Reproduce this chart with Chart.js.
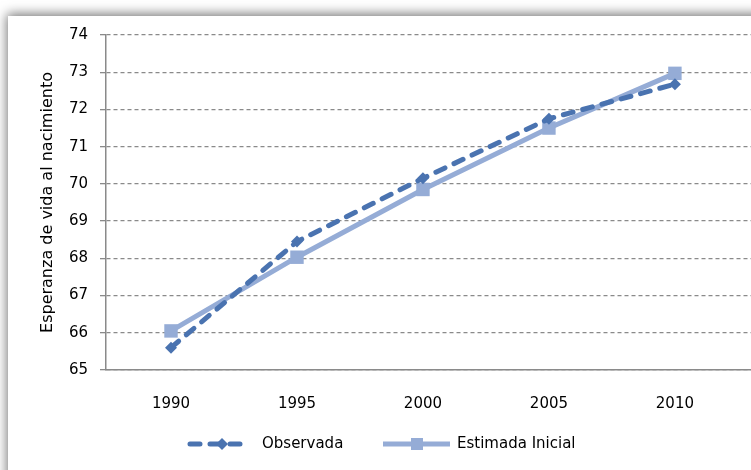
<!DOCTYPE html>
<html>
<head>
<meta charset="utf-8">
<script src="https://cdn.jsdelivr.net/npm/chart.js@4.4.0/dist/chart.umd.min.js"></script>
<style>
  html, body { margin: 0; padding: 0; background: #ffffff; overflow: hidden; }
  #frame { position: absolute; left: 8px; top: 16px; width: 800px; height: 520px; background: #fff;
           box-shadow: -1px -2px 11px rgba(0,0,0,0.55); }
  #c { position: absolute; left: 0; top: 0; }
</style>
</head>
<body>
<div id="frame"></div>
<canvas id="c" width="751" height="470"></canvas>
<script>
const years = [1990, 1995, 2000, 2005, 2010];
const observada = [65.6, 68.45, 70.15, 71.75, 72.68];
const estimada = [66.05, 68.03, 69.85, 71.5, 72.97];
const yTicks = [65, 66, 67, 68, 69, 70, 71, 72, 73, 74];
const seriesNames = ['Observada', 'Estimada Inicial'];

const FONT = 'DejaVu Sans';
const colObs = '#4a73b0';
const colEst = '#95acd6';

const legendPlugin = {
  id: 'customLegend',
  afterDraw(chart) {
    const ctx = chart.ctx;
    const y = 444;
    ctx.save();
    ctx.strokeStyle = colObs; ctx.lineWidth = 5; ctx.lineCap = 'round';
    ctx.setLineDash([10, 10]);
    ctx.beginPath(); ctx.moveTo(190, y); ctx.lineTo(246, y); ctx.stroke();
    ctx.setLineDash([]);
    ctx.fillStyle = colObs;
    ctx.beginPath(); ctx.moveTo(222, y - 6); ctx.lineTo(228, y); ctx.lineTo(222, y + 6); ctx.lineTo(216, y); ctx.closePath(); ctx.fill();
    ctx.strokeStyle = colEst; ctx.lineWidth = 5; ctx.lineCap = 'butt';
    ctx.beginPath(); ctx.moveTo(383, y); ctx.lineTo(450, y); ctx.stroke();
    ctx.fillStyle = colEst;
    ctx.fillRect(411, y - 6, 12, 12);
    ctx.fillStyle = '#000'; ctx.font = '15px "' + FONT + '"';
    ctx.textBaseline = 'middle'; ctx.textAlign = 'left';
    ctx.fillText(seriesNames[0], 262, y);
    ctx.fillText(seriesNames[1], 457, y);
    ctx.restore();
  }
};

new Chart(document.getElementById('c'), {
  type: 'line',
  data: {
    datasets: [
      {
        label: seriesNames[0],
        data: years.map((x, i) => ({ x: x, y: observada[i] })),
        borderColor: colObs, backgroundColor: colObs,
        borderWidth: 5, borderDash: [10, 10], borderCapStyle: 'round',
        pointStyle: 'rectRot', pointRadius: 6, pointBorderWidth: 0,
        tension: 0
      },
      {
        label: seriesNames[1],
        data: years.map((x, i) => ({ x: x, y: estimada[i] })),
        borderColor: colEst, backgroundColor: colEst,
        borderWidth: 5,
        pointStyle: 'rect', pointRadius: 9.5, pointBorderWidth: 0,
        tension: 0
      }
    ]
  },
  options: {
    responsive: false,
    animation: false,
    events: [],
    layout: { autoPadding: false, padding: { left: 0, right: 0, top: 35, bottom: 0 } },
    plugins: { legend: { display: false }, tooltip: { enabled: false } },
    font: { family: FONT, size: 15 },
    scales: {
      x: {
        type: 'linear',
        min: 1987.42, max: 2013.02,
        afterBuildTicks: (s) => { s.ticks = years.map(v => ({ value: v })); },
        afterFit: (s) => { s.height = 100; s.paddingRight = 0; s.paddingLeft = 0; },
        grid: { display: false },
        border: { display: true, color: '#8a8a8a', width: 1.5 },
        ticks: { color: '#000', padding: 17, font: { family: FONT, size: 15 }, maxRotation: 0,
                 callback: (v) => String(v) }
      },
      y: {
        min: 65, max: 74,
        afterBuildTicks: (s) => { s.ticks = yTicks.map(v => ({ value: v })); },
        afterFit: (s) => { s.width = 106; },
        grid: { color: '#8a8a8a', lineWidth: 1.3, tickBorderDash: [], tickLength: 6,
                tickColor: '#8a8a8a', tickWidth: 1.3 },
        border: { display: true, color: '#8a8a8a', width: 1.5, dash: [4, 3] },
        ticks: { color: '#000', padding: 12, font: { family: FONT, size: 15 } },
        title: { display: true, text: 'Esperanza de vida al nacimiento', color: '#000',
                 font: { family: FONT, size: 16 }, padding: { top: 38, bottom: 0 } }
      }
    }
  },
  plugins: [legendPlugin]
});
</script>
</body>
</html>
